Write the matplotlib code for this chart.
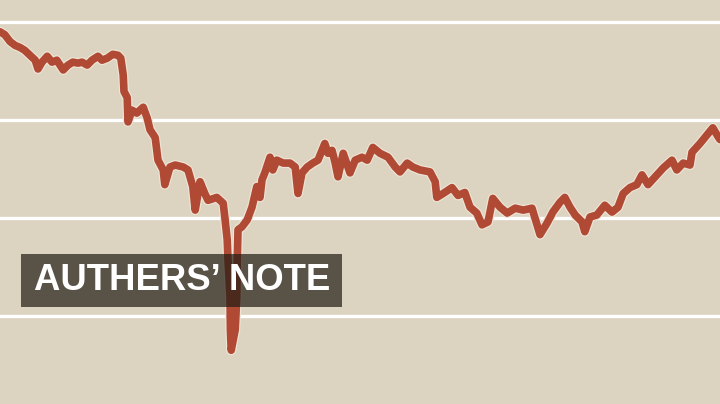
import numpy as np
import matplotlib.pyplot as plt
import matplotlib.patheffects as pe
from matplotlib.patches import Rectangle

# index level (gridlines at 100, 200, 300, 400)
days = [0, 12, 25, 38, 50, 62, 75, 88, 95, 105,
        118, 130, 142, 158, 170, 182, 195, 205, 218, 230,
        245, 255, 268, 282, 295, 302, 308, 310, 318, 320,
        330, 342, 358, 368, 375, 388, 395, 408, 412, 425,
        438, 458, 470, 482, 488, 500, 512, 520, 542, 558,
        562, 568, 570, 575, 576, 578, 588, 592, 593, 595,
        605, 618, 630, 642, 650, 655, 662, 675, 682, 692,
        708, 725, 738, 745, 755, 768, 782, 795, 812, 820,
        830, 838, 845, 858, 875, 888, 905, 918, 932, 950,
        970, 988, 1000, 1018, 1032, 1050, 1075, 1088, 1092, 1108,
        1130, 1145, 1162, 1175, 1192, 1205, 1220, 1232, 1250, 1268,
        1288, 1308, 1330, 1345, 1350, 1368, 1382, 1400, 1412, 1425,
        1438, 1455, 1462, 1475, 1492, 1512, 1530, 1545, 1558, 1575,
        1592, 1605, 1620, 1638, 1658, 1680, 1692, 1708, 1725, 1730,
        1750, 1768, 1782, 1795, 1800]
level = [390, 387, 380, 376, 374, 371, 366, 361, 352, 359,
         365, 359, 361, 351, 356, 359, 358, 359, 356, 361,
         365, 361, 363, 367, 366, 363, 346, 329, 323, 298,
         310, 307, 313, 302, 290, 282, 259, 249, 234, 252,
         254, 252, 249, 232, 208, 237, 225, 218, 221, 215,
         201, 178, 157, 119, 86, 65, 86, 119, 154, 188,
         191, 198, 211, 232, 221, 239, 246, 262, 249, 259,
         256, 256, 252, 225, 246, 252, 256, 259, 276, 266,
         269, 256, 242, 266, 246, 259, 262, 259, 272, 266,
         262, 252, 247, 256, 252, 249, 247, 237, 221, 225,
         231, 223, 226, 211, 205, 193, 196, 220, 211, 205,
         210, 208, 210, 190, 183, 195, 206, 216, 221, 211,
         203, 196, 186, 201, 203, 213, 206, 211, 225, 231,
         234, 244, 234, 242, 251, 259, 249, 256, 254, 267,
         276, 285, 292, 283, 280]

grid_levels = [100, 200, 300, 400]

bg = '#dcd3c1'
fig = plt.figure(figsize=(7.2, 4.04), dpi=100, facecolor=bg)
ax = fig.add_axes([0, 0, 1, 1])
ax.set_facecolor(bg)
ax.set_xlim(0, 1800)
ax.set_ylim(10.2, 422.4)
for s in ax.spines.values():
    s.set_visible(False)
ax.set_xticks([])
ax.set_yticks([])

for g in grid_levels:
    ax.axhline(g, color='white', lw=2.4, zorder=1)

ax.plot(days, level, color='#b04a35', lw=5.5, solid_joinstyle='round',
        solid_capstyle='round', zorder=3,
        path_effects=[pe.Stroke(linewidth=7.2, foreground='#efe5d6'), pe.Normal()])

# label box, semi-transparent so the line shows through
ax.add_patch(Rectangle((21 / 720, 1 - 307 / 404), 321 / 720, 53 / 404,
                       transform=ax.transAxes, facecolor='#221b13',
                       alpha=0.7, edgecolor='none', zorder=5))
ax.text(182 / 720, 1 - 281 / 404, 'AUTHERS\u2019 NOTE', color='white',
        fontsize=26.3, fontweight='bold', family=['Liberation Sans', 'DejaVu Sans'],
        ha='center', va='center', zorder=6, transform=ax.transAxes)

fig.savefig('out.png', dpi=100, facecolor=bg)
